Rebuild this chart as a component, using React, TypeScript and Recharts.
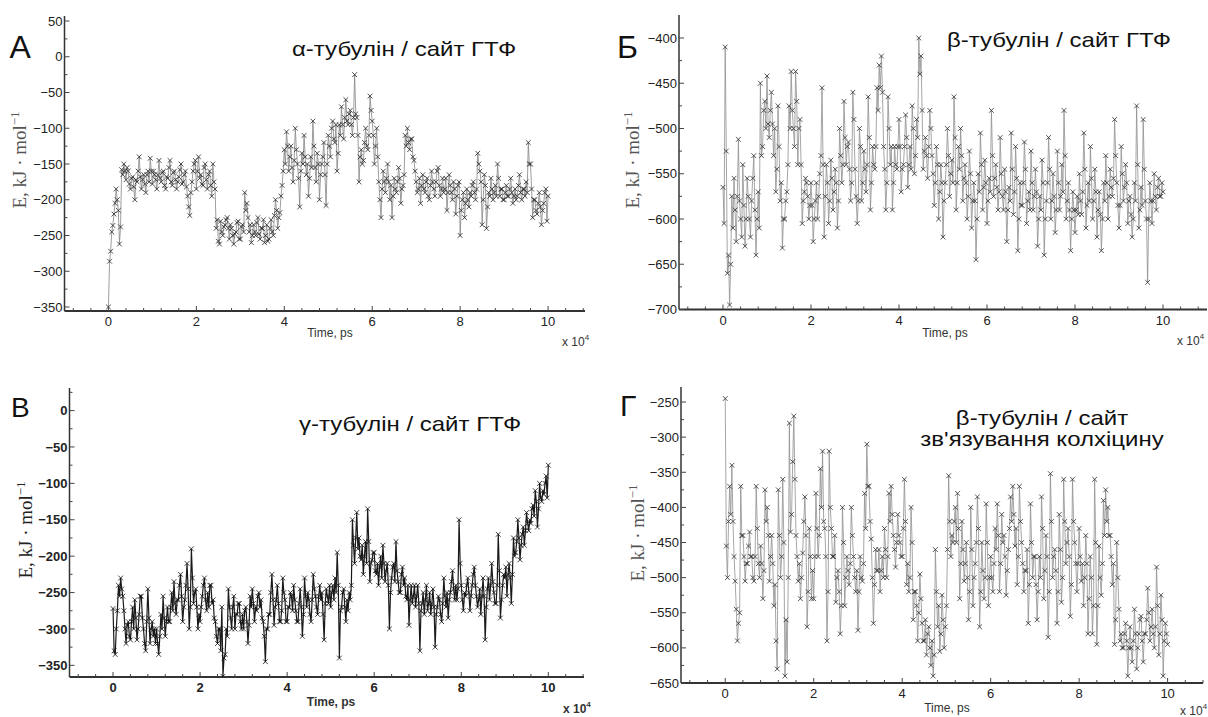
import { LineChart, Line, XAxis, YAxis } from "recharts";

// frames are saved every 250 ps, x axis is in units of 10^4 ps
const STEP = 0.025;

// α-tubulin, GTP site (kJ/mol)
const energyAlpha = [
  -350, -286, -272, -245, -236, -220, -205, -185, -200, -215, -262, -238, -158, -165, -150, -160, -172, -155, -160, -178, -185, -170, -168, -182, -200, -172, -175, -160, -140, -168, -185, -172, -165, -178, -190, -165, -160, -175, -142, -160,
  -178, -160, -165, -172, -185, -165, -145, -170, -175, -162, -160, -180, -185, -168, -170, -155, -145, -175, -180, -162, -160, -172, -185, -175, -168, -158, -150, -178, -175, -165, -160, -182, -195, -210, -222, -190, -175, -160, -150, -145,
  -185, -160, -140, -170, -165, -178, -180, -155, -150, -172, -185, -165, -160, -180, -195, -150, -175, -185, -240, -228, -258, -262, -230, -245, -250, -238, -235, -228, -225, -240, -255, -235, -240, -250, -262, -248, -245, -232, -230, -255,
  -255, -238, -235, -245, -190, -215, -205, -225, -245, -235, -260, -250, -235, -245, -250, -232, -225, -248, -255, -240, -240, -228, -260, -250, -235, -258, -255, -240, -228, -245, -250, -222, -200, -215, -240, -225, -218, -195, -180, -160,
  -130, -150, -105, -125, -160, -140, -125, -155, -175, -145, -100, -130, -150, -170, -210, -160, -135, -150, -110, -140, -165, -150, -195, -170, -140, -155, -90, -125, -155, -175, -135, -150, -200, -165, -150, -140, -120, -165, -208, -150,
  -110, -125, -140, -100, -90, -115, -120, -95, -160, -135, -95, -110, -70, -95, -115, -85, -60, -90, -95, -80, -75, -95, -110, -85, -25, -80, -85, -110, -175, -140, -130, -150, -145, -120, -100, -125, -130, -110, -55, -75,
  -90, -110, -150, -125, -100, -140, -175, -200, -225, -185, -160, -175, -190, -170, -150, -175, -200, -180, -225, -195, -170, -185, -190, -175, -155, -170, -205, -185, -180, -165, -110, -125, -100, -120, -130, -115, -115, -140, -145, -160,
  -175, -190, -185, -170, -205, -180, -165, -185, -190, -175, -170, -195, -200, -180, -160, -175, -185, -195, -175, -160, -155, -180, -195, -185, -170, -190, -185, -170, -215, -190, -165, -180, -190, -200, -175, -185, -220, -195, -180, -175,
  -250, -215, -200, -190, -225, -205, -185, -200, -210, -190, -195, -180, -175, -190, -200, -185, -135, -150, -160, -175, -235, -200, -165, -180, -240, -210, -190, -195, -170, -185, -200, -190, -180, -195, -150, -170, -195, -185, -185, -200,
  -200, -190, -180, -195, -195, -185, -170, -190, -205, -195, -185, -200, -195, -180, -165, -190, -200, -185, -185, -195, -175, -190, -120, -150, -150, -185, -225, -200, -200, -215, -220, -205, -190, -210, -235, -215, -205, -190, -185, -230,
  -195,
];

// β-tubulin, GTP site
const energyBeta = [
  -565, -605, -410, -525, -660, -640, -695, -650, -575, -610, -555, -590, -625, -575, -512, -580, -600, -620, -540, -585, -630, -600, -555, -575, -600, -620, -580, -555, -530, -590, -640, -600, -570, -610, -450, -530, -520, -480, -470, -500,
  -442, -495, -510, -480, -460, -495, -530, -500, -570, -545, -475, -520, -580, -560, -632, -600, -600, -580, -570, -540, -475, -500, -437, -480, -500, -520, -437, -470, -540, -500, -490, -540, -605, -580, -570, -555, -560, -575, -600, -585,
  -560, -585, -625, -600, -580, -560, -600, -575, -550, -530, -455, -540, -620, -575, -540, -560, -605, -580, -535, -555, -590, -570, -545, -560, -610, -580, -500, -530, -560, -540, -470, -510, -540, -520, -515, -545, -580, -560, -460, -490,
  -545, -575, -605, -580, -500, -520, -580, -560, -525, -545, -570, -540, -465, -510, -590, -560, -520, -540, -545, -520, -455, -480, -430, -455, -420, -460, -520, -545, -590, -560, -465, -500, -540, -520, -590, -560, -520, -540, -545, -520,
  -490, -520, -570, -545, -540, -520, -485, -510, -565, -540, -520, -545, -475, -500, -550, -530, -490, -510, -400, -440, -420, -480, -545, -525, -510, -530, -555, -520, -480, -500, -530, -550, -585, -560, -520, -540, -600, -570, -540, -560,
  -620, -580, -560, -540, -500, -530, -575, -550, -535, -560, -465, -510, -590, -560, -520, -545, -500, -530, -580, -555, -540, -560, -600, -575, -525, -550, -610, -580, -560, -580, -645, -600, -550, -570, -505, -540, -590, -565, -535, -560,
  -605, -580, -555, -570, -480, -530, -575, -555, -540, -565, -590, -570, -510, -550, -575, -590, -545, -570, -625, -590, -565, -580, -505, -545, -595, -570, -520, -555, -635, -600, -560, -585, -585, -560, -515, -545, -605, -580, -570, -590,
  -525, -560, -590, -575, -545, -570, -630, -600, -575, -590, -535, -560, -640, -600, -580, -560, -510, -545, -600, -580, -550, -575, -615, -590, -525, -560, -590, -575, -540, -570, -480, -530, -600, -580, -560, -590, -635, -600, -570, -590,
  -615, -590, -575, -595, -550, -580, -595, -570, -505, -545, -610, -585, -560, -580, -520, -555, -600, -580, -545, -570, -620, -590, -570, -595, -635, -600, -560, -580, -530, -560, -600, -575, -545, -565, -575, -555, -490, -530, -560, -585,
  -610, -585, -520, -550, -580, -565, -540, -560, -605, -580, -575, -595, -620, -600, -560, -580, -475, -540, -610, -590, -565, -585, -490, -545, -580, -600, -670, -600, -560, -580, -605, -580, -550, -575, -590, -565, -555, -575, -575, -560,
  -570,
];

// γ-tubulin, GTP site
const energyGamma = [
  -272, -330, -335, -300, -275, -240, -255, -230, -245, -255, -275, -300, -320, -295, -290, -310, -315, -290, -270, -300, -260, -285, -315, -300, -280, -255, -255, -285, -300, -320, -330, -290, -245, -285, -320, -300, -290, -310, -300, -320,
  -300, -320, -335, -310, -280, -300, -255, -285, -310, -290, -270, -290, -290, -270, -250, -275, -235, -265, -280, -260, -260, -240, -225, -255, -290, -270, -260, -240, -210, -245, -300, -270, -190, -230, -265, -250, -245, -270, -300, -280,
  -290, -270, -255, -240, -230, -260, -275, -250, -270, -240, -240, -265, -260, -285, -290, -310, -320, -300, -300, -330, -270, -365, -340, -335, -300, -310, -245, -270, -285, -300, -270, -255, -300, -280, -280, -265, -265, -290, -300, -280,
  -300, -275, -270, -290, -320, -295, -255, -270, -245, -265, -290, -270, -275, -255, -250, -270, -260, -285, -290, -310, -345, -300, -300, -280, -280, -250, -225, -260, -295, -270, -260, -240, -265, -290, -290, -275, -230, -250, -260, -290,
  -290, -270, -270, -250, -255, -275, -240, -260, -275, -290, -290, -265, -245, -270, -310, -280, -230, -255, -270, -250, -260, -280, -290, -260, -225, -245, -255, -270, -280, -255, -240, -260, -250, -280, -315, -265, -245, -255, -265, -240,
  -270, -250, -240, -260, -230, -250, -195, -240, -340, -275, -270, -250, -245, -270, -290, -260, -275, -250, -260, -240, -150, -185, -210, -175, -140, -190, -175, -200, -205, -185, -225, -200, -180, -210, -135, -180, -235, -210, -205, -195,
  -195, -220, -225, -210, -240, -215, -200, -230, -185, -210, -235, -220, -210, -240, -300, -250, -230, -215, -210, -235, -180, -220, -235, -250, -250, -225, -215, -240, -230, -255, -260, -240, -295, -260, -240, -265, -255, -240, -270, -255,
  -240, -265, -330, -275, -265, -250, -280, -260, -240, -275, -265, -250, -280, -265, -245, -270, -325, -280, -270, -255, -260, -280, -290, -265, -230, -255, -270, -250, -285, -260, -250, -235, -220, -245, -260, -240, -260, -245, -150, -210,
  -240, -260, -275, -250, -255, -240, -230, -250, -275, -255, -240, -225, -215, -240, -255, -270, -260, -245, -280, -255, -230, -255, -315, -270, -245, -230, -260, -240, -210, -235, -250, -265, -265, -240, -170, -220, -285, -260, -240, -225,
  -230, -215, -255, -225, -210, -230, -265, -225, -175, -200, -195, -180, -150, -175, -205, -185, -170, -160, -185, -165, -140, -155, -165, -150, -155, -135, -130, -145, -110, -125, -160, -135, -100, -120, -125, -110, -115, -100, -90, -120,
  -75,
];

// β-tubulin, colchicine binding site
const energyColch = [
  -245, -455, -500, -420, -370, -410, -340, -420, -470, -505, -545, -590, -565, -550, -370, -440, -440, -470, -505, -480, -480, -455, -435, -470, -470, -500, -505, -470, -370, -430, -480, -500, -455, -480, -530, -490, -375, -420, -400, -440,
  -505, -470, -440, -480, -540, -510, -590, -630, -375, -440, -500, -470, -360, -450, -640, -560, -620, -500, -280, -435, -410, -335, -270, -360, -440, -470, -505, -480, -530, -500, -465, -420, -385, -440, -570, -520, -430, -470, -530, -490,
  -530, -470, -380, -430, -470, -440, -345, -400, -320, -420, -430, -470, -590, -520, -320, -400, -430, -470, -470, -440, -535, -500, -490, -520, -580, -540, -400, -450, -540, -500, -470, -490, -510, -480, -400, -440, -470, -500, -520, -490,
  -575, -520, -470, -500, -505, -480, -380, -430, -310, -370, -370, -420, -445, -500, -565, -510, -460, -490, -490, -460, -520, -490, -470, -500, -430, -460, -500, -470, -380, -420, -370, -410, -440, -460, -485, -450, -410, -440, -450, -470,
  -470, -430, -360, -420, -510, -480, -520, -500, -400, -450, -560, -520, -520, -540, -590, -550, -495, -530, -565, -590, -590, -560, -610, -580, -570, -600, -625, -590, -640, -610, -460, -520, -570, -540, -605, -580, -525, -560, -600, -570,
  -540, -460, -355, -420, -470, -440, -450, -420, -400, -450, -380, -430, -530, -480, -420, -460, -505, -480, -450, -500, -560, -520, -400, -460, -540, -500, -480, -450, -385, -430, -570, -520, -450, -490, -530, -500, -395, -450, -540, -500,
  -470, -500, -520, -480, -430, -460, -395, -440, -520, -480, -410, -450, -440, -470, -525, -490, -460, -430, -385, -420, -370, -410, -455, -430, -510, -470, -370, -420, -450, -480, -520, -490, -490, -460, -565, -510, -395, -450, -500, -470,
  -470, -510, -560, -520, -470, -500, -385, -430, -530, -490, -440, -470, -585, -520, -352, -420, -500, -470, -460, -490, -565, -520, -410, -460, -535, -500, -360, -420, -480, -450, -430, -470, -555, -510, -360, -420, -450, -480, -520, -480,
  -430, -470, -505, -480, -540, -500, -440, -480, -580, -530, -470, -500, -580, -540, -360, -450, -595, -540, -455, -500, -525, -480, -390, -440, -375, -420, -400, -440, -440, -470, -510, -480, -595, -560, -450, -500, -545, -590, -580, -600,
  -600, -580, -565, -590, -640, -600, -570, -600, -620, -590, -545, -580, -630, -600, -580, -560, -555, -590, -620, -580, -580, -560, -515, -550, -590, -570, -545, -580, -600, -570, -485, -540, -610, -580, -525, -560, -640, -590, -565, -580,
  -595,
];

const xLabels = [0, 2, 4, 6, 8, 10];
const xMinor = [-0.8, -0.4, 0.4, 0.8, 1.2, 1.6, 2.4, 2.8, 3.2, 3.6, 4.4, 4.8, 5.2, 5.6, 6.4, 6.8, 7.2, 7.6, 8.4, 8.8, 9.2, 9.6, 10.4, 10.8];

const yLabelsAlpha = [50, 0, -50, -100, -150, -200, -250, -300, -350];
const yMinorAlpha = [25, -25, -75, -125, -175, -225, -275, -325];
const yLabelsBeta = [-400, -450, -500, -550, -600, -650, -700];
const yMinorBeta = [-425, -475, -525, -575, -625, -675];
const yLabelsGamma = [0, -50, -100, -150, -200, -250, -300, -350];
const yMinorGamma = [25, -25, -75, -125, -175, -225, -275, -325];
const yLabelsColch = [-250, -300, -350, -400, -450, -500, -550, -600, -650];
const yMinorColch = [-275, -325, -375, -425, -475, -525, -575, -625];

const toRows = (values: number[]) => values.map((e, i) => ({ t: i * STEP, e }));

const fmt = (v: number) => (v < 0 ? "\u2212" + Math.abs(v) : String(v));

const YW = 40;
const XH = 20;

type Panel = {
  box: { left: number; top: number; w: number; h: number };
  plot: { L: number; R: number; T: number; B: number };
  xDomain: [number, number];
  yDomain: [number, number];
  values: number[];
  yLabels: number[];
  yMinor: number[];
  bold?: boolean;
  lineColor: string;
  markColor: string;
  lineWidth: number;
};

const panels: Panel[] = [
  {
    box: { left: 0, top: 0, w: 604, h: 358 },
    plot: { L: 64.5, R: 585, T: 16, B: 311 },
    xDomain: [-1, 10.84],
    yDomain: [-355.6, 57],
    values: energyAlpha,
    yLabels: yLabelsAlpha,
    yMinor: yMinorAlpha,
    lineColor: "#858585",
    markColor: "#262626",
    lineWidth: 0.8,
  },
  {
    box: { left: 604, top: 0, w: 604, h: 358 },
    plot: { L: 679, R: 1207, T: 15, B: 309.5 },
    xDomain: [-1, 11],
    yDomain: [-700, -374.6],
    values: energyBeta,
    yLabels: yLabelsBeta,
    yMinor: yMinorBeta,
    lineColor: "#8f8f8f",
    markColor: "#2e2e2e",
    lineWidth: 0.8,
  },
  {
    box: { left: 0, top: 358, w: 604, h: 359 },
    plot: { L: 69.5, R: 584, T: 388, B: 677 },
    xDomain: [-1, 10.82],
    yDomain: [-366, 31],
    values: energyGamma,
    yLabels: yLabelsGamma,
    yMinor: yMinorGamma,
    bold: true,
    lineColor: "#1a1a1a",
    markColor: "#111",
    lineWidth: 1.2,
  },
  {
    box: { left: 604, top: 358, w: 604, h: 359 },
    plot: { L: 681, R: 1203, T: 387, B: 683 },
    xDomain: [-1, 10.8],
    yDomain: [-650, -228.6],
    values: energyColch,
    yLabels: yLabelsColch,
    yMinor: yMinorColch,
    lineColor: "#8f8f8f",
    markColor: "#2e2e2e",
    lineWidth: 0.8,
  },
];

const sans = "'Liberation Sans', Arial, sans-serif";
const serif = "'Liberation Serif', 'Times New Roman', serif";

function XMark(props: any) {
  const { cx, cy, index, color } = props;
  if (cx == null || cy == null) return <g key={index} />;
  const s = 2.4;
  return (
    <path
      key={index}
      d={`M${cx - s},${cy - s}L${cx + s},${cy + s}M${cx + s},${cy - s}L${cx - s},${cy + s}`}
      stroke={color}
      strokeWidth={0.8}
      fill="none"
    />
  );
}

function ChartPanel({ p }: { p: Panel }) {
  const margin = {
    left: p.plot.L - p.box.left - YW,
    right: p.box.left + p.box.w - p.plot.R,
    top: p.plot.T - p.box.top,
    bottom: p.box.top + p.box.h - p.plot.B - XH,
  };
  const weight = p.bold ? "bold" : "normal";
  const xTick = (t: any) => {
    const v = t.payload.value;
    const major = xLabels.includes(v);
    return (
      <g key={`x${v}`}>
        <line x1={t.x} x2={t.x} y1={t.y} y2={t.y - (major ? 5 : 3)} stroke="#444" strokeWidth={1} />
        {major && (
          <text x={t.x} y={t.y + 15} textAnchor="middle" fontSize={13} fontFamily={sans} fontWeight={weight} fill="#222">
            {v}
          </text>
        )}
      </g>
    );
  };
  const yTick = (t: any) => {
    const v = t.payload.value;
    const major = p.yLabels.includes(v);
    return (
      <g key={`y${v}`}>
        <line x1={t.x} x2={t.x + (major ? 5 : 3)} y1={t.y} y2={t.y} stroke="#444" strokeWidth={1} />
        {major && (
          <text x={t.x - 2} y={t.y + 4.6} textAnchor="end" fontSize={13} fontFamily={sans} fontWeight={weight} fill="#222">
            {fmt(v)}
          </text>
        )}
      </g>
    );
  };
  return (
    <div style={{ position: "absolute", left: p.box.left, top: p.box.top }}>
      <LineChart width={p.box.w} height={p.box.h} data={toRows(p.values)} margin={margin}>
        <XAxis
          type="number"
          dataKey="t"
          domain={p.xDomain}
          allowDataOverflow
          ticks={[...xMinor, ...xLabels].sort((a, b) => a - b)}
          interval={0}
          height={XH}
          tickSize={0}
          tickMargin={0}
          tickLine={false}
          axisLine={{ stroke: "#333", strokeWidth: 2 }}
          tick={xTick}
        />
        <YAxis
          type="number"
          domain={p.yDomain}
          allowDataOverflow
          ticks={[...p.yMinor, ...p.yLabels].sort((a, b) => a - b)}
          interval={0}
          width={YW}
          tickSize={0}
          tickMargin={0}
          tickLine={false}
          axisLine={{ stroke: "#333", strokeWidth: 1.5 }}
          tick={yTick}
        />
        <Line
          type="linear"
          dataKey="e"
          stroke={p.lineColor}
          strokeWidth={p.lineWidth}
          dot={(d: any) => <XMark {...d} color={p.markColor} />}
          activeDot={false}
          isAnimationActive={false}
        />
      </LineChart>
    </div>
  );
}

function YTitle({ cx, cy, bold }: { cx: number; cy: number; bold?: boolean }) {
  return (
    <text
      transform={`translate(${cx},${cy}) rotate(-90)`}
      textAnchor="middle"
      fontFamily={serif}
      fontSize={19}
      fill={bold ? "#222" : "#555"}
      dy={6}
    >
      E, kJ · mol
      <tspan fontSize={13} dy={-7}>
        {"\u22121"}
      </tspan>
    </text>
  );
}

function Title({ x, y, text, anchor = "start" }: { x: number; y: number; text: string; anchor?: string }) {
  return (
    <text transform={`translate(${x},${y}) scale(1,0.85)`} fontFamily={sans} fontSize={24} fill="#111" textAnchor={anchor as any}>
      {text}
    </text>
  );
}

function TimeLabel({ x, y, bold }: { x: number; y: number; bold?: boolean }) {
  return (
    <text x={x} y={y} textAnchor="middle" fontFamily={sans} fontSize={12} fill="#333" fontWeight={bold ? "bold" : "normal"}>
      Time, ps
    </text>
  );
}

function Scale({ x, y, bold }: { x: number; y: number; bold?: boolean }) {
  return (
    <text x={x} y={y} fontFamily={sans} fontSize={12} fill="#333" fontWeight={bold ? "bold" : "normal"}>
      x 10
      <tspan fontSize={8} dy={-6}>
        4
      </tspan>
    </text>
  );
}

export default function App() {
  return (
    <div style={{ position: "absolute", left: 0, top: 0, width: 1208, height: 717, background: "#fff", overflow: "hidden" }}>
      {panels.map((p, i) => (
        <ChartPanel key={i} p={p} />
      ))}
      <svg width={1208} height={717} style={{ position: "absolute", left: 0, top: 0, pointerEvents: "none" }}>
        <text x={9.6} y={58} fontFamily={sans} fontSize={32} fill="#111">А</text>
        <text x={617} y={58} fontFamily={sans} fontSize={32} fill="#111">Б</text>
        <text x={11} y={417} fontFamily={sans} fontSize={28} fill="#111">В</text>
        <text x={620} y={416} fontFamily={sans} fontSize={30} fill="#111">Г</text>

        <Title x={292} y={55.7} text="α-тубулін / сайт ГТФ" />
        <Title x={947} y={47} text="β-тубулін / сайт ГТФ" />
        <Title x={299} y={431} text="γ-тубулін / сайт ГТФ" />
        <Title x={1042} y={425} text="β-тубулін / сайт" anchor="middle" />
        <Title x={1042} y={446} text="зв'язування колхіцину" anchor="middle" />

        <YTitle cx={20} cy={160} />
        <YTitle cx={633} cy={160} />
        <YTitle cx={26} cy={530} bold />
        <YTitle cx={638} cy={533} />

        <TimeLabel x={330} y={337} />
        <TimeLabel x={945} y={337} />
        <TimeLabel x={331} y={706} bold />
        <TimeLabel x={947} y={712} />

        <Scale x={562} y={346} />
        <Scale x={1177} y={345} />
        <Scale x={563} y={713} bold />
        <Scale x={1180} y={715} />
      </svg>
    </div>
  );
}
